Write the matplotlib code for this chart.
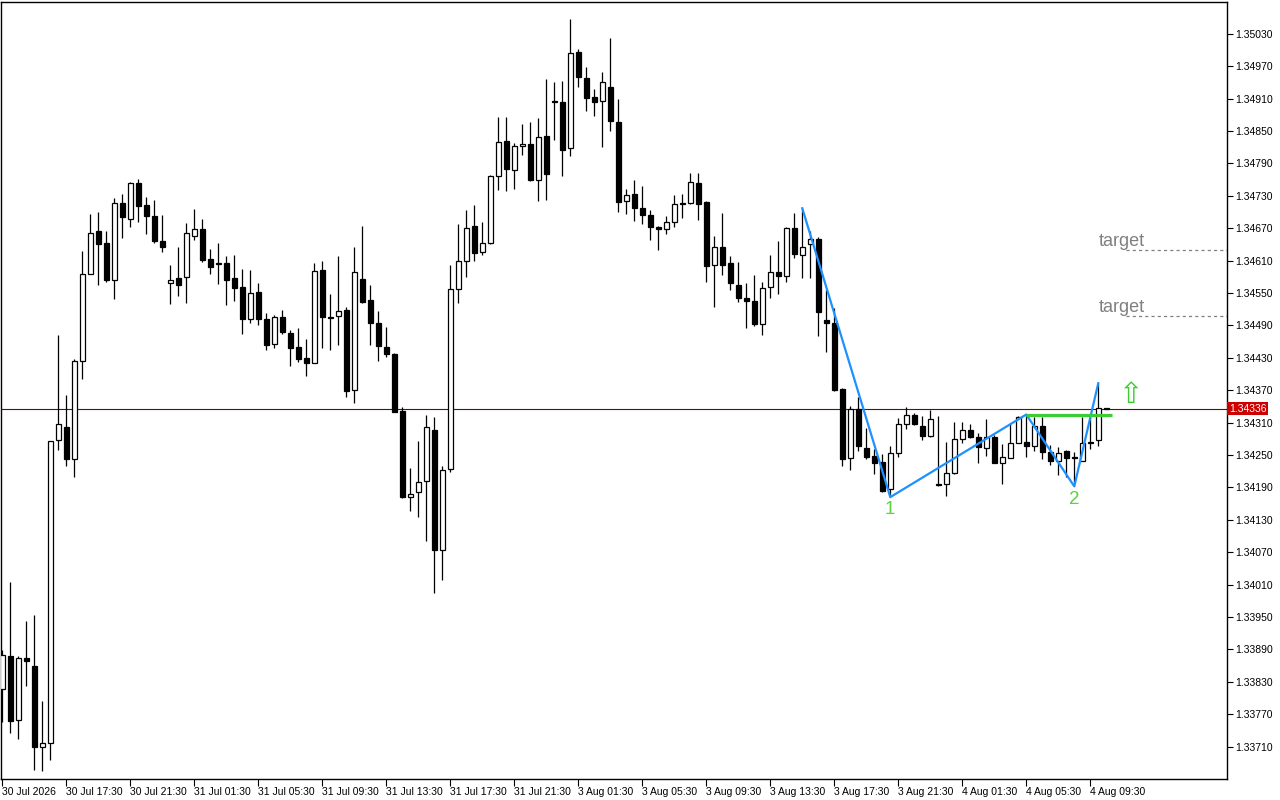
import matplotlib
matplotlib.use("Agg")
import matplotlib.pyplot as plt
import matplotlib.transforms as mtransforms
import numpy as np

# 30 min candles, 30 Jul 2026 13:30 .. 4 Aug 2026 10:30
opens = [1.33817, 1.33877, 1.33760, 1.33875, 1.33860, 1.33710, 1.33717, 1.34277, 1.34302, 1.34242,
         1.34424, 1.34585, 1.34664, 1.34642, 1.34575, 1.34716, 1.34688, 1.34754, 1.34713, 1.34693,
         1.34647, 1.34568, 1.34578, 1.34580, 1.34655, 1.34668, 1.34613, 1.34606, 1.34606, 1.34578,
         1.34562, 1.34502, 1.34552, 1.34502, 1.34455, 1.34506, 1.34476, 1.34450, 1.34430, 1.34421,
         1.34593, 1.34506, 1.34507, 1.34519, 1.34370, 1.34576, 1.34537, 1.34495, 1.34450, 1.34437,
         1.34331, 1.34173, 1.34181, 1.34201, 1.34296, 1.34074, 1.34225, 1.34557, 1.34609, 1.34675,
         1.34626, 1.34642, 1.34767, 1.34831, 1.34778, 1.34822, 1.34826, 1.34759, 1.34841, 1.34905,
         1.34904, 1.34818, 1.34996, 1.34948, 1.34913, 1.34905, 1.34931, 1.34867, 1.34720, 1.34733,
         1.34707, 1.34694, 1.34672, 1.34668, 1.34681, 1.34717, 1.34716, 1.34754, 1.34718, 1.34602,
         1.34635, 1.34605, 1.34565, 1.34541, 1.34535, 1.34492, 1.34561, 1.34589, 1.34581, 1.34670,
         1.34620, 1.34641, 1.34650, 1.34500, 1.34494, 1.34373, 1.34244, 1.34335, 1.34263, 1.34249,
         1.34237, 1.34187, 1.34254, 1.34307, 1.34324, 1.34304, 1.34286, 1.34196, 1.34196, 1.34216,
         1.34280, 1.34296, 1.34284, 1.34263, 1.34283, 1.34236, 1.34244, 1.34272, 1.34274, 1.34266,
         1.34304, 1.34256, 1.34239, 1.34257, 1.34246, 1.34239, 1.34272, 1.34278, 1.34337]
highs = [1.33889, 1.34014, 1.33877, 1.33943, 1.33953, 1.33794, 1.34276, 1.34472, 1.34362, 1.34428,
         1.34627, 1.34697, 1.34700, 1.34665, 1.34726, 1.34734, 1.34756, 1.34762, 1.34728, 1.34723,
         1.34695, 1.34602, 1.34636, 1.34680, 1.34706, 1.34687, 1.34632, 1.34643, 1.34619, 1.34621,
         1.34595, 1.34593, 1.34569, 1.34513, 1.34510, 1.34519, 1.34482, 1.34486, 1.34465, 1.34606,
         1.34610, 1.34549, 1.34619, 1.34525, 1.34636, 1.34675, 1.34565, 1.34517, 1.34487, 1.34439,
         1.34339, 1.34226, 1.34276, 1.34325, 1.34321, 1.34229, 1.34602, 1.34678, 1.34704, 1.34713,
         1.34682, 1.34768, 1.34876, 1.34876, 1.34828, 1.34863, 1.34867, 1.34875, 1.34946, 1.34941,
         1.34943, 1.35058, 1.35002, 1.34968, 1.34928, 1.34960, 1.35022, 1.34910, 1.34743, 1.34759,
         1.34748, 1.34704, 1.34675, 1.34693, 1.34732, 1.34734, 1.34772, 1.34772, 1.34721, 1.34655,
         1.34698, 1.34619, 1.34608, 1.34568, 1.34583, 1.34570, 1.34620, 1.34647, 1.34673, 1.34698,
         1.34707, 1.34664, 1.34654, 1.34556, 1.34522, 1.34374, 1.34341, 1.34357, 1.34300, 1.34261,
         1.34252, 1.34267, 1.34318, 1.34339, 1.34328, 1.34323, 1.34334, 1.34323, 1.34274, 1.34311,
         1.34311, 1.34307, 1.34291, 1.34317, 1.34287, 1.34270, 1.34309, 1.34322, 1.34325, 1.34320,
         1.34321, 1.34268, 1.34264, 1.34259, 1.34255, 1.34320, 1.34321, 1.34383, 1.34337]
lows = [1.33756, 1.33735, 1.33724, 1.33822, 1.33666, 1.33665, 1.33686, 1.34260, 1.34230, 1.34210,
        1.34390, 1.34585, 1.34564, 1.34570, 1.34539, 1.34652, 1.34672, 1.34682, 1.34659, 1.34643,
        1.34626, 1.34529, 1.34544, 1.34531, 1.34649, 1.34607, 1.34586, 1.34566, 1.34527, 1.34536,
        1.34475, 1.34494, 1.34490, 1.34445, 1.34449, 1.34475, 1.34414, 1.34423, 1.34397, 1.34420,
        1.34449, 1.34444, 1.34453, 1.34358, 1.34347, 1.34531, 1.34453, 1.34425, 1.34431, 1.34329,
        1.34170, 1.34147, 1.34135, 1.34090, 1.33995, 1.34018, 1.34219, 1.34531, 1.34579, 1.34610,
        1.34620, 1.34641, 1.34741, 1.34739, 1.34743, 1.34805, 1.34757, 1.34721, 1.34723, 1.34834,
        1.34766, 1.34803, 1.34932, 1.34888, 1.34877, 1.34821, 1.34851, 1.34701, 1.34696, 1.34684,
        1.34677, 1.34649, 1.34630, 1.34660, 1.34673, 1.34689, 1.34715, 1.34686, 1.34570, 1.34525,
        1.34584, 1.34555, 1.34533, 1.34486, 1.34489, 1.34473, 1.34540, 1.34549, 1.34570, 1.34615,
        1.34577, 1.34577, 1.34470, 1.34440, 1.34368, 1.34230, 1.34222, 1.34258, 1.34242, 1.34215,
        1.34182, 1.34172, 1.34246, 1.34298, 1.34305, 1.34278, 1.34284, 1.34193, 1.34175, 1.34215,
        1.34272, 1.34281, 1.34236, 1.34249, 1.34235, 1.34197, 1.34244, 1.34272, 1.34246, 1.34258,
        1.34242, 1.34232, 1.34213, 1.34210, 1.34192, 1.34239, 1.34262, 1.34266, 1.34336]
closes = [1.33879, 1.33758, 1.33875, 1.33869, 1.33709, 1.33717, 1.34276, 1.34307, 1.34242, 1.34424,
          1.34585, 1.34661, 1.34640, 1.34575, 1.34716, 1.34690, 1.34754, 1.34712, 1.34692, 1.34647,
          1.34635, 1.34574, 1.34564, 1.34661, 1.34668, 1.34612, 1.34599, 1.34604, 1.34575, 1.34560,
          1.34501, 1.34550, 1.34501, 1.34453, 1.34506, 1.34477, 1.34449, 1.34427, 1.34421, 1.34591,
          1.34505, 1.34504, 1.34517, 1.34368, 1.34589, 1.34534, 1.34494, 1.34451, 1.34438, 1.34329,
          1.34173, 1.34178, 1.34200, 1.34302, 1.34075, 1.34222, 1.34557, 1.34609, 1.34671, 1.34624,
          1.34642, 1.34767, 1.34829, 1.34779, 1.34822, 1.34826, 1.34760, 1.34839, 1.34770, 1.34904,
          1.34814, 1.34994, 1.34951, 1.34912, 1.34904, 1.34941, 1.34868, 1.34719, 1.34731, 1.34708,
          1.34694, 1.34673, 1.34668, 1.34681, 1.34715, 1.34715, 1.34755, 1.34714, 1.34600, 1.34635,
          1.34602, 1.34568, 1.34540, 1.34535, 1.34492, 1.34559, 1.34589, 1.34581, 1.34670, 1.34622,
          1.34635, 1.34650, 1.34515, 1.34494, 1.34371, 1.34242, 1.34335, 1.34266, 1.34247, 1.34236,
          1.34184, 1.34254, 1.34307, 1.34324, 1.34307, 1.34286, 1.34317, 1.34194, 1.34216, 1.34280,
          1.34296, 1.34284, 1.34264, 1.34283, 1.34236, 1.34246, 1.34272, 1.34321, 1.34266, 1.34303,
          1.34256, 1.34239, 1.34254, 1.34244, 1.34244, 1.34272, 1.34275, 1.34337, 1.34336]

time_labels = ['30 Jul 2026', '30 Jul 17:30', '30 Jul 21:30', '31 Jul 01:30', '31 Jul 05:30',
               '31 Jul 09:30', '31 Jul 13:30', '31 Jul 17:30', '31 Jul 21:30', '3 Aug 01:30',
               '3 Aug 05:30', '3 Aug 09:30', '3 Aug 13:30', '3 Aug 17:30', '3 Aug 21:30',
               '4 Aug 01:30', '4 Aug 05:30', '4 Aug 09:30']
label_every = 8

# zigzag pivots: bar index and whether it is a high
zz_bars = [100, 111, 128, 134, 137]
zz_is_high = [True, False, True, False, True]
wave_labels = {111: '1', 134: '2'}
breakout_bar = 128
targets = [1.34629, 1.34507]
bid = 1.34336

o = np.array(opens)
h = np.array(highs)
l = np.array(lows)
c = np.array(closes)
x = np.arange(len(o))

fig = plt.figure(figsize=(12.8, 8), dpi=100)
ax = fig.add_axes([1/1280, 21/800, 1226/1280, 777/800])

ax.vlines(x, l, h, color='black', linewidth=0.9, zorder=2)
up = c >= o
body = np.maximum(np.abs(c - o), 0.000004)
ax.bar(x[up], body[up], bottom=np.minimum(o, c)[up], width=0.6,
       facecolor='white', edgecolor='black', linewidth=0.9, zorder=3)
ax.bar(x[~up], body[~up], bottom=np.minimum(o, c)[~up], width=0.6,
       facecolor='black', edgecolor='black', linewidth=0.9, zorder=3)

# bid line
ax.axhline(bid, color='#5a1010', linewidth=0.8, zorder=1)

# zigzag
zz_y = [h[b] if hi else l[b] for b, hi in zip(zz_bars, zz_is_high)]
ax.plot(zz_bars, zz_y, color='#1e90ff', linewidth=1.6, zorder=5)

# breakout level
ax.hlines(h[breakout_bar], breakout_bar, len(o) - 0.3, color='#3ccc33', linewidth=2.3, zorder=6)

for b, t in wave_labels.items():
    ax.annotate(t, (b, l[b]), xytext=(0, -3), textcoords='offset points',
                ha='center', va='top', fontsize=13.5, color='#5ad43c',
                family='Liberation Sans', zorder=7)

# targets
for tg in targets:
    ax.hlines(tg, 140.5, 160, color='#808080', linewidth=0.9, linestyles=(0, (2.5, 2.5)), zorder=1)
    ax.annotate('target', (137, tg), xytext=(0, 3), textcoords='offset points',
                ha='left', va='baseline', fontsize=13, color='#808080', family='Liberation Sans')

# up arrow
ax.text(141, bid, '\u21e7', ha='center', va='bottom', fontsize=21, color='#3ccc33',
        family='DejaVu Sans', zorder=7)

ax.set_xlim(-0.16, 153.09)
ax.set_ylim(1.33650, 1.35089)

yt = np.round(np.arange(1.33710, 1.35031, 0.0006), 5)
ax.yaxis.tick_right()
ax.set_yticks(yt)
ax.set_yticklabels(['%.5f' % v for v in yt])
xt = np.arange(0, len(time_labels) * label_every, label_every)
ax.set_xticks(xt)
ax.set_xticklabels(time_labels, ha='left')
ax.tick_params(axis='y', which='both', direction='out', length=4, width=0.8, pad=2,
               labelsize=7.5, colors='black')
ax.tick_params(axis='x', which='both', direction='out', length=5, width=0.8, pad=1,
               labelsize=7.5, colors='black')
for lab in ax.get_xticklabels() + ax.get_yticklabels():
    lab.set_family('Liberation Sans')
for sp in ax.spines.values():
    sp.set_color('black')
    sp.set_linewidth(1.0)

# bid price tag on the price scale
tr = mtransforms.blended_transform_factory(ax.transAxes, ax.transData)
ax.text(1.0015, bid, '%.5f' % bid, transform=tr, ha='left', va='center', fontsize=7.5,
        color='white', family='Liberation Sans', clip_on=False,
        bbox=dict(boxstyle='square,pad=0.15', facecolor='#cc0000', edgecolor='none'))

fig.savefig('out.png', dpi=100, facecolor='white')
